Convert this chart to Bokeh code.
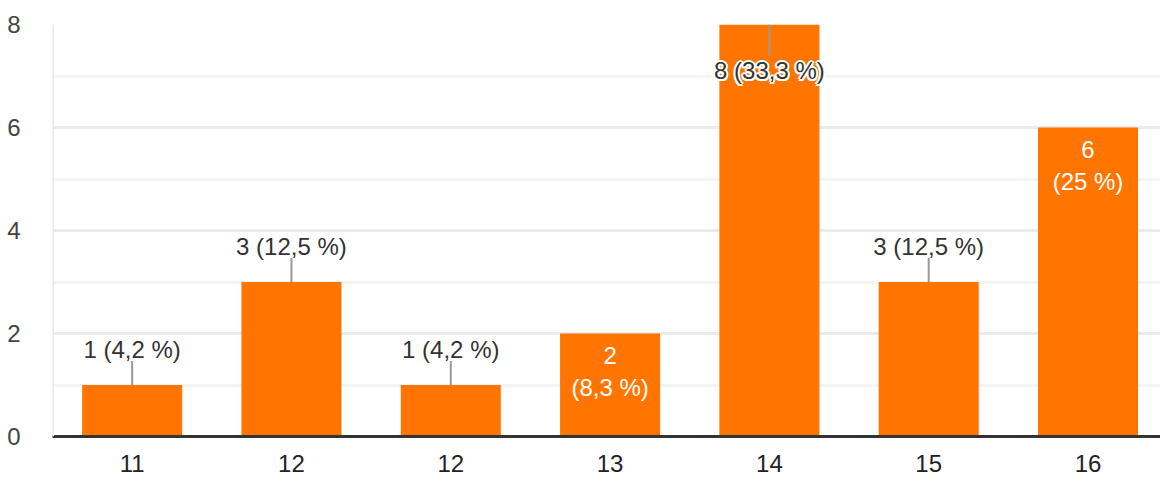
from bokeh.plotting import figure
from bokeh.models import ColumnDataSource, FixedTicker, Span
from bokeh.core.properties import value
from bokeh.embed import file_html
from bokeh.resources import INLINE

categories = ["11", "12", "12", "13", "14", "15", "16"]
counts = [1, 3, 1, 2, 8, 3, 6]
placement = ["above", "above", "above", "inside", "top", "above", "inside"]
y_ticks = [0, 2, 4, 6, 8]
y_minor = [1, 3, 5, 7]

total = sum(counts)


def pct(v):
    s = f"{round(100 * v / total, 1):.1f}".replace(".", ",")
    if s.endswith(",0"):
        s = s[:-2]
    return s


xs = list(range(1, len(categories) + 1))
FONT = value("Liberation Sans")
ORANGE = "#ff7500"

p = figure(width=1160, height=479, output_backend="svg", toolbar_location=None,
           x_range=(0.5, 7.455), y_range=(0, 8),
           min_border_left=52, min_border_right=0, min_border_top=24, min_border_bottom=43)
p.outline_line_color = None
p.background_fill_color = "white"

# grid
p.xgrid.grid_line_color = None
p.yaxis.ticker = FixedTicker(ticks=y_ticks, minor_ticks=y_minor)
p.ygrid.grid_line_color = "#ebebeb"
p.ygrid.grid_line_width = 3
p.ygrid.minor_grid_line_color = "#f4f4f4"
p.ygrid.minor_grid_line_width = 3
p.add_layout(Span(location=0.5, dimension="height", line_color="#ebebeb", line_width=3))

# bars
src = ColumnDataSource(dict(x=xs, top=counts))
p.vbar(x="x", top="top", width=0.628, bottom=0, source=src, fill_color=ORANGE, line_color=None)

# axes
p.yaxis.axis_line_color = None
p.yaxis.major_tick_line_color = None
p.yaxis.minor_tick_line_color = None
p.yaxis.major_label_standoff = 26
p.yaxis.major_label_text_font = "Liberation Sans"
p.yaxis.major_label_text_font_size = "24px"
p.yaxis.major_label_text_color = "#444444"

p.xaxis.ticker = FixedTicker(ticks=xs)
p.xaxis.major_label_overrides = {x: c for x, c in zip(xs, categories)}
p.xaxis.axis_line_color = "#333333"
p.xaxis.axis_line_width = 3
p.xaxis.major_tick_line_color = None
p.xaxis.minor_tick_line_color = None
p.xaxis.major_label_standoff = 12
p.xaxis.major_label_text_font = "Liberation Sans"
p.xaxis.major_label_text_font_size = "24px"
p.xaxis.major_label_text_color = "#222222"

# labels above bars with leader lines
ab = [i for i, pl in enumerate(placement) if pl == "above"]
ab_src = ColumnDataSource(dict(
    x=[xs[i] for i in ab],
    y=[counts[i] for i in ab],
    y1=[counts[i] + 0.466 for i in ab],
    t=[f"{counts[i]} ({pct(counts[i])} %)" for i in ab],
))
p.segment(x0="x", y0="y", x1="x", y1="y1", source=ab_src, line_color="#999999", line_width=2)
p.text(x="x", y="y", text="t", source=ab_src, y_offset=-36, text_align="center",
       text_baseline="middle", text_font=FONT, text_font_size="24px", text_color="#333333")

# label at top of tallest bar (with halo)
tp = [i for i, pl in enumerate(placement) if pl == "top"]
tp_src = ColumnDataSource(dict(
    x=[xs[i] for i in tp],
    y=[counts[i] for i in tp],
    y1=[counts[i] - 0.6 for i in tp],
    t=[f"{counts[i]} ({pct(counts[i])} %)" for i in tp],
))
p.segment(x0="x", y0="y", x1="x", y1="y1", source=tp_src, line_color="#999999", line_width=2)
for dx, dy in [(-2, 0), (2, 0), (0, -2), (0, 2), (-1.5, -1.5), (1.5, 1.5), (-1.5, 1.5), (1.5, -1.5)]:
    p.text(x="x", y="y", text="t", source=tp_src, x_offset=dx, y_offset=46 + dy, text_align="center",
           text_baseline="middle", text_font=FONT, text_font_size="24px", text_color="white")
p.text(x="x", y="y", text="t", source=tp_src, y_offset=46, text_align="center",
       text_baseline="middle", text_font=FONT, text_font_size="24px", text_color="#333333")

# labels inside bars (two lines, white)
ins = [i for i, pl in enumerate(placement) if pl == "inside"]
in_src = ColumnDataSource(dict(
    x=[xs[i] for i in ins],
    y=[counts[i] for i in ins],
    t1=[f"{counts[i]}" for i in ins],
    t2=[f"({pct(counts[i])} %)" for i in ins],
))
p.text(x="x", y="y", text="t1", source=in_src, y_offset=22, text_align="center",
       text_baseline="middle", text_font=FONT, text_font_size="24px", text_color="white")
p.text(x="x", y="y", text="t2", source=in_src, y_offset=54, text_align="center",
       text_baseline="middle", text_font=FONT, text_font_size="24px", text_color="white")

open("out.html", "w").write(file_html(p, INLINE))
